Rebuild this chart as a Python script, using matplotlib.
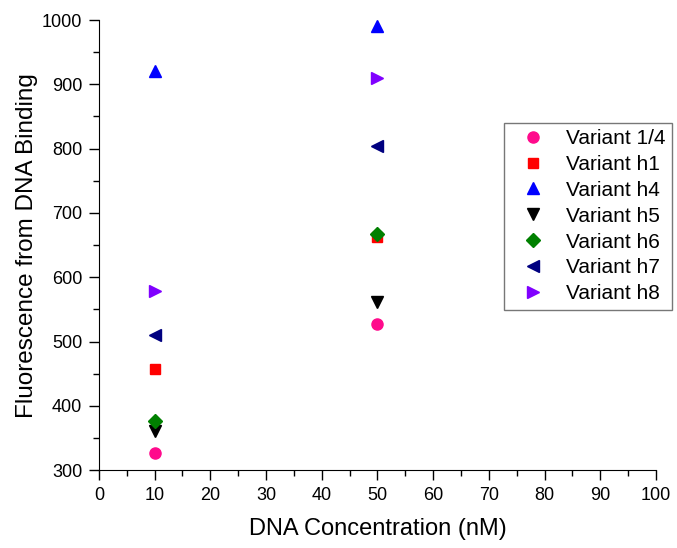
import matplotlib.pyplot as plt
import numpy as np

plt.rcParams['font.family'] = ['Liberation Sans', 'DejaVu Sans']

conc = [10, 50]
names = ['Variant 1/4', 'Variant h1', 'Variant h4', 'Variant h5',
         'Variant h6', 'Variant h7', 'Variant h8']
v14 = [327, 527]
h1 = [458, 663]
h4 = [921, 991]
h5 = [361, 562]
h6 = [376, 668]
h7 = [510, 804]
h8 = [579, 910]

series = [v14, h1, h4, h5, h6, h7, h8]
markers = ['o', 's', '^', 'v', 'D', '<', '>']
colors = ['#FF0A8C', '#FF0000', '#0000FF', '#000000', '#008000', '#000080', '#8000FF']
sizes = [8, 7, 8.5, 8.5, 7, 8.5, 8.5]

fig = plt.figure(figsize=(6.77, 5.48), dpi=100)
ax = fig.add_axes([0.146, 0.142, 0.823, 0.8215])

for vals, name, m, c, s in zip(series, names, markers, colors, sizes):
    ax.plot(conc, vals, linestyle='none', marker=m, color=c, markersize=s, label=name)

ax.set_xlim(0, 100)
ax.set_ylim(300, 1000)
ax.set_xticks(np.arange(0, 101, 10))
ax.set_xticks(np.arange(5, 100, 10), minor=True)
ax.set_yticks(np.arange(300, 1001, 100))
ax.set_yticks(np.arange(350, 1000, 100), minor=True)
ax.spines['top'].set_visible(False)
ax.spines['right'].set_visible(False)
ax.tick_params(which='major', direction='out', length=7, width=1, labelsize=13, pad=5)
ax.tick_params(which='minor', direction='out', length=4, width=1)

ax.set_xlabel('DNA Concentration (nM)', fontsize=17, labelpad=10)
ax.set_ylabel('Fluorescence from DNA Binding', fontsize=17.5, labelpad=3)

leg = ax.legend(loc='upper left', bbox_to_anchor=(0.744, 0.776),
                bbox_transform=fig.transFigure, fontsize=15, frameon=True,
                fancybox=False, edgecolor='#555555', borderpad=0.3,
                labelspacing=0.33, handletextpad=0.5, handlelength=2.2,
                borderaxespad=0)
leg.get_frame().set_linewidth(1)

fig.savefig('out.png', dpi=100)
